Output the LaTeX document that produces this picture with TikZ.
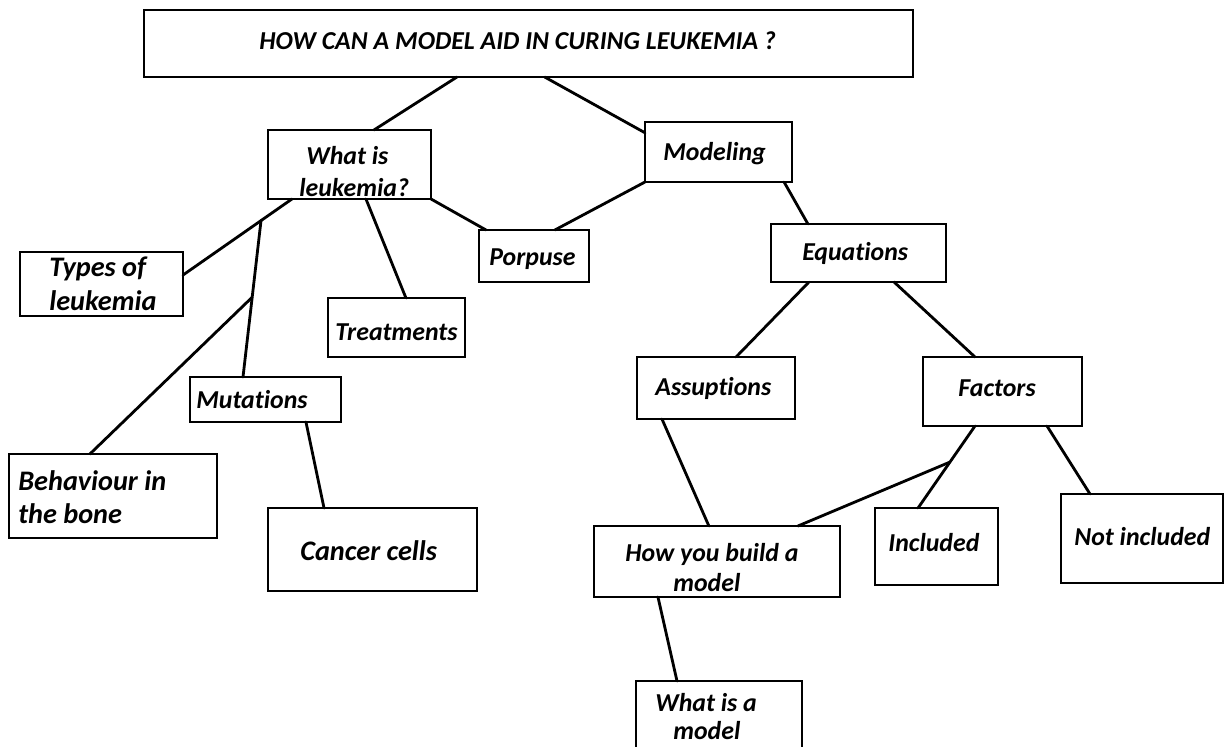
\documentclass[tikz,border=0pt]{standalone}
\usepackage{fontspec}
\setmainfont{Carlito}[Ligatures=NoCommon]
\usetikzlibrary{calc}
\tikzset{
  bx/.style n args={2}{draw=black, line width=1.6pt, minimum width=#1*0.02cm, minimum height=#2*0.02cm, inner sep=0pt, outer sep=0pt},
  lbl/.style={anchor=mid west, inner sep=0pt, yshift=-0.08cm, font=\fontsize{14.7}{17}\selectfont\bfseries\itshape},
  lblL/.style={lbl, font=\fontsize{16.1}{19}\selectfont\bfseries\itshape},
  conn/.style={line width=1.6pt, line cap=round},
}
\begin{document}
\begin{tikzpicture}[x=0.02cm,y=-0.02cm]
\useasboundingbox (0,0) rectangle (1225,747);
\clip (0,0) rectangle (1225,747);
\fill[white] (0,0) rectangle (1225,747);

% boxes
\node[bx={769}{67}]  (title)     at (528.5,43.5) {};
\node[bx={163}{69}]  (what)      at (349.5,164.5) {};
\node[bx={147}{60}]  (modeling)  at (718.5,152) {};
\node[bx={110}{52}]  (porpuse)   at (534,256) {};
\node[bx={175}{58}]  (equations) at (858.5,253) {};
\node[bx={163}{64}]  (types)     at (101.5,284) {};
\node[bx={137}{59}]  (treat)     at (396.5,327.5) {};
\node[bx={151}{45}]  (mut)       at (265.5,399.5) {};
\node[bx={158}{62}]  (assup)     at (716,388) {};
\node[bx={159}{69}]  (factors)   at (1002.5,391.5) {};
\node[bx={208}{84}]  (behav)     at (113,496) {};
\node[bx={209}{83}]  (cancer)    at (372.5,549.5) {};
\node[bx={246}{71}]  (how)       at (717,561.5) {};
\node[bx={123}{77}]  (incl)      at (936.5,546.5) {};
\node[bx={162}{89}]  (notincl)   at (1142,538.5) {};
\node[bx={166}{90}]  (wmodel)    at (719,726) {};

% texts
\node[lbl] (t-title) at (259,41) {HOW CAN A MODEL AID IN CURING LEUKEMIA ?};
\node[lbl] (t-what1) at (306,156) {What is};
\node[lbl] (t-what2) at (299,188) {leukemia?};
\node[lblL] (t-types1) at (49,268) {Types of};
\node[lblL] (t-types2) at (49,302) {leukemia};
\node[lbl] (t-treat) at (335,332) {Treatments};
\node[lbl] (t-porp) at (489,257) {Porpuse};
\node[lbl] (t-mod) at (663,152) {Modeling};
\node[lbl] (t-eq) at (802,252) {Equations};
\node[lbl] (t-mut) at (196,400) {Mutations};
\node[lbl] (t-assup) at (655,387) {Assuptions};
\node[lbl] (t-fact) at (958,388) {Factors};
\node[lblL] (t-behav1) at (18,482) {Behaviour in};
\node[lblL] (t-behav2) at (18,515) {the bone};
\node[lblL] (t-cancer) at (300,552) {Cancer cells};
\node[lbl] (t-how1) at (625,553) {How you build a};
\node[lbl] (t-how2) at (673,583) {model};
\node[lbl] (t-incl) at (888,543) {Included};
\node[lbl] (t-notincl) at (1074,537) {Not included};
\node[lbl] (t-wm1) at (655,703) {What is a};
\node[lbl] (t-wm2) at (673,731) {model};

% junction coordinates
\coordinate (wA) at ($(what.south west)!0.147!(what.south east)$);
\coordinate (tA) at ($(types.north east)!0.36!(types.south east)$);
\coordinate (J1) at ($(wA)!0.284!(tA)$);
\coordinate (mA) at ($(mut.north west)!0.351!(mut.north east)$);
\coordinate (J2) at ($(J1)!0.49!(mA)$);
\coordinate (fA) at ($(factors.south west)!0.327!(factors.south east)$);
\coordinate (iA) at ($(incl.north west)!0.35!(incl.north east)$);
\coordinate (J3) at ($(fA)!0.44!(iA)$);

% connectors
\draw[conn] ($(title.south west)!0.407!(title.south east)$) -- ($(what.north west)!0.65!(what.north east)$);
\draw[conn] ($(title.south west)!0.521!(title.south east)$) -- ($(modeling.north west)!0.18!(modeling.south west)$);
\draw[conn] (wA) -- (tA);
\draw[conn] (J1) -- (mA);
\draw[conn] (J2) -- ($(behav.north west)!0.389!(behav.north east)$);
\draw[conn] ($(what.south west)!0.601!(what.south east)$) -- ($(treat.north west)!0.569!(treat.north east)$);
\draw[conn] (what.south east) -- ($(porpuse.north west)!0.064!(porpuse.north east)$);
\draw[conn] ($(porpuse.north west)!0.69!(porpuse.north east)$) -- (modeling.south west);
\draw[conn] ($(modeling.south west)!0.946!(modeling.south east)$) -- ($(equations.north west)!0.211!(equations.north east)$);
\draw[conn] ($(equations.south west)!0.217!(equations.south east)$) -- ($(assup.north west)!0.627!(assup.north east)$);
\draw[conn] ($(equations.south west)!0.703!(equations.south east)$) -- ($(factors.north west)!0.327!(factors.north east)$);
\draw[conn] ($(assup.south west)!0.158!(assup.south east)$) -- ($(how.north west)!0.467!(how.north east)$);
\draw[conn] (fA) -- (iA);
\draw[conn] (J3) -- ($(how.north west)!0.829!(how.north east)$);
\draw[conn] ($(factors.south west)!0.78!(factors.south east)$) -- ($(notincl.north west)!0.179!(notincl.north east)$);
\draw[conn] ($(mut.south west)!0.768!(mut.south east)$) -- ($(cancer.north west)!0.268!(cancer.north east)$);
\draw[conn] ($(how.south west)!0.26!(how.south east)$) -- ($(wmodel.north west)!0.247!(wmodel.north east)$);
\end{tikzpicture}
\end{document}
